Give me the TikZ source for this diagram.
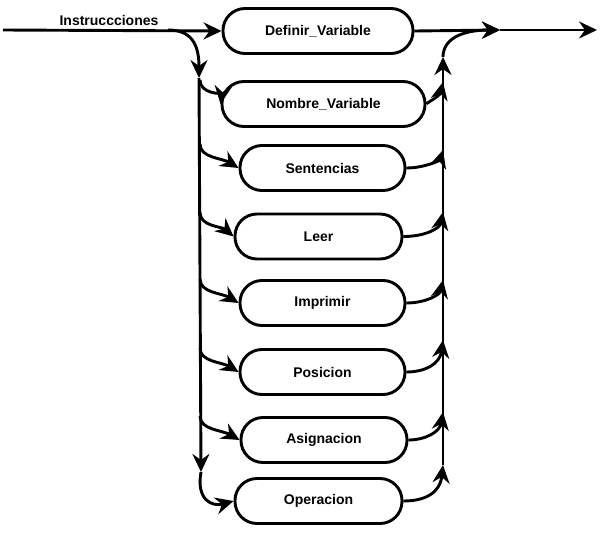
\documentclass[tikz,border=0pt]{standalone}
\usepackage{fontspec}
\setmainfont{Liberation Sans}
\usetikzlibrary{arrows.meta}
\begin{document}
\begin{tikzpicture}[x=1pt,y=-1pt,
  line width=2.9pt,
  arr/.style={-{Stealth[length=18pt,width=17pt,inset=6pt]}},
  term/.style={draw,rectangle,rounded corners=22pt,minimum height=45pt,inner sep=0pt,font=\bfseries\fontsize{14}{16}\selectfont},
  lbl/.style={font=\bfseries\fontsize{14}{16}\selectfont}]
\useasboundingbox (0,0) rectangle (600,533);
\node[lbl,anchor=base] (title) at (109,25) {Instruccciones};
\node[term,minimum width=190pt] (def) at (318,31) {Definir\_Variable};
\node[term,minimum width=203pt] (nom) at (323.5,104) {Nombre\_Variable};
\node[term,minimum width=165pt] (sen) at (322.5,168) {Sentencias};
\node[term,minimum width=167pt] (lee) at (318.5,236.5) {Leer};
\node[term,minimum width=165pt] (imp) at (322.5,303) {Imprimir};
\node[term,minimum width=165pt] (pos) at (322.5,372) {Posicion};
\node[term,minimum width=166pt] (asi) at (324,440) {Asignacion};
\node[term,minimum width=167pt] (ope) at (318.5,501) {Operacion};
\coordinate (start) at (3,30);
\coordinate (split) at (168,30);
\coordinate (ltop) at (199,78);
\coordinate (lbot) at (201,472);
\coordinate (rbot) at (443,465);
\coordinate (rtop) at (443,57);
\coordinate (join) at (500,30);
\coordinate (finish) at (597,30);
% main line
\draw[arr] (start) -- (def.west);
\draw[arr] (split) .. controls (192,30) and (199,45) .. (ltop);
\draw[arr] (ltop) -- (lbot);
\draw[arr] (lbot) .. controls (196,500) and (212,507) .. (ope.west);
% left branches
\foreach \n/\cy in {nom/104,sen/168,lee/236.5,imp/303,pos/372,asi/440}{
  \draw[arr] (200,\cy-24) .. controls (200,\cy-10) and (222,\cy-10) .. (\n.west);
}
% right branches
\foreach \n/\cy/\ey in {nom/104/82,sen/168/150,lee/236.5/212,imp/303/280,pos/372/340,asi/440/412,ope/501/465}{
  \draw[arr] (\n.east) .. controls (425,\cy) and (440,\cy-8) .. (443,\ey);
}
\draw[arr] (rbot) -- (rtop);
\draw[arr] (rtop) .. controls (443,40) and (460,30) .. (join);
\draw[arr] (def.east) -- (join);
\draw[arr] (join) -- (finish);
\end{tikzpicture}
\end{document}
